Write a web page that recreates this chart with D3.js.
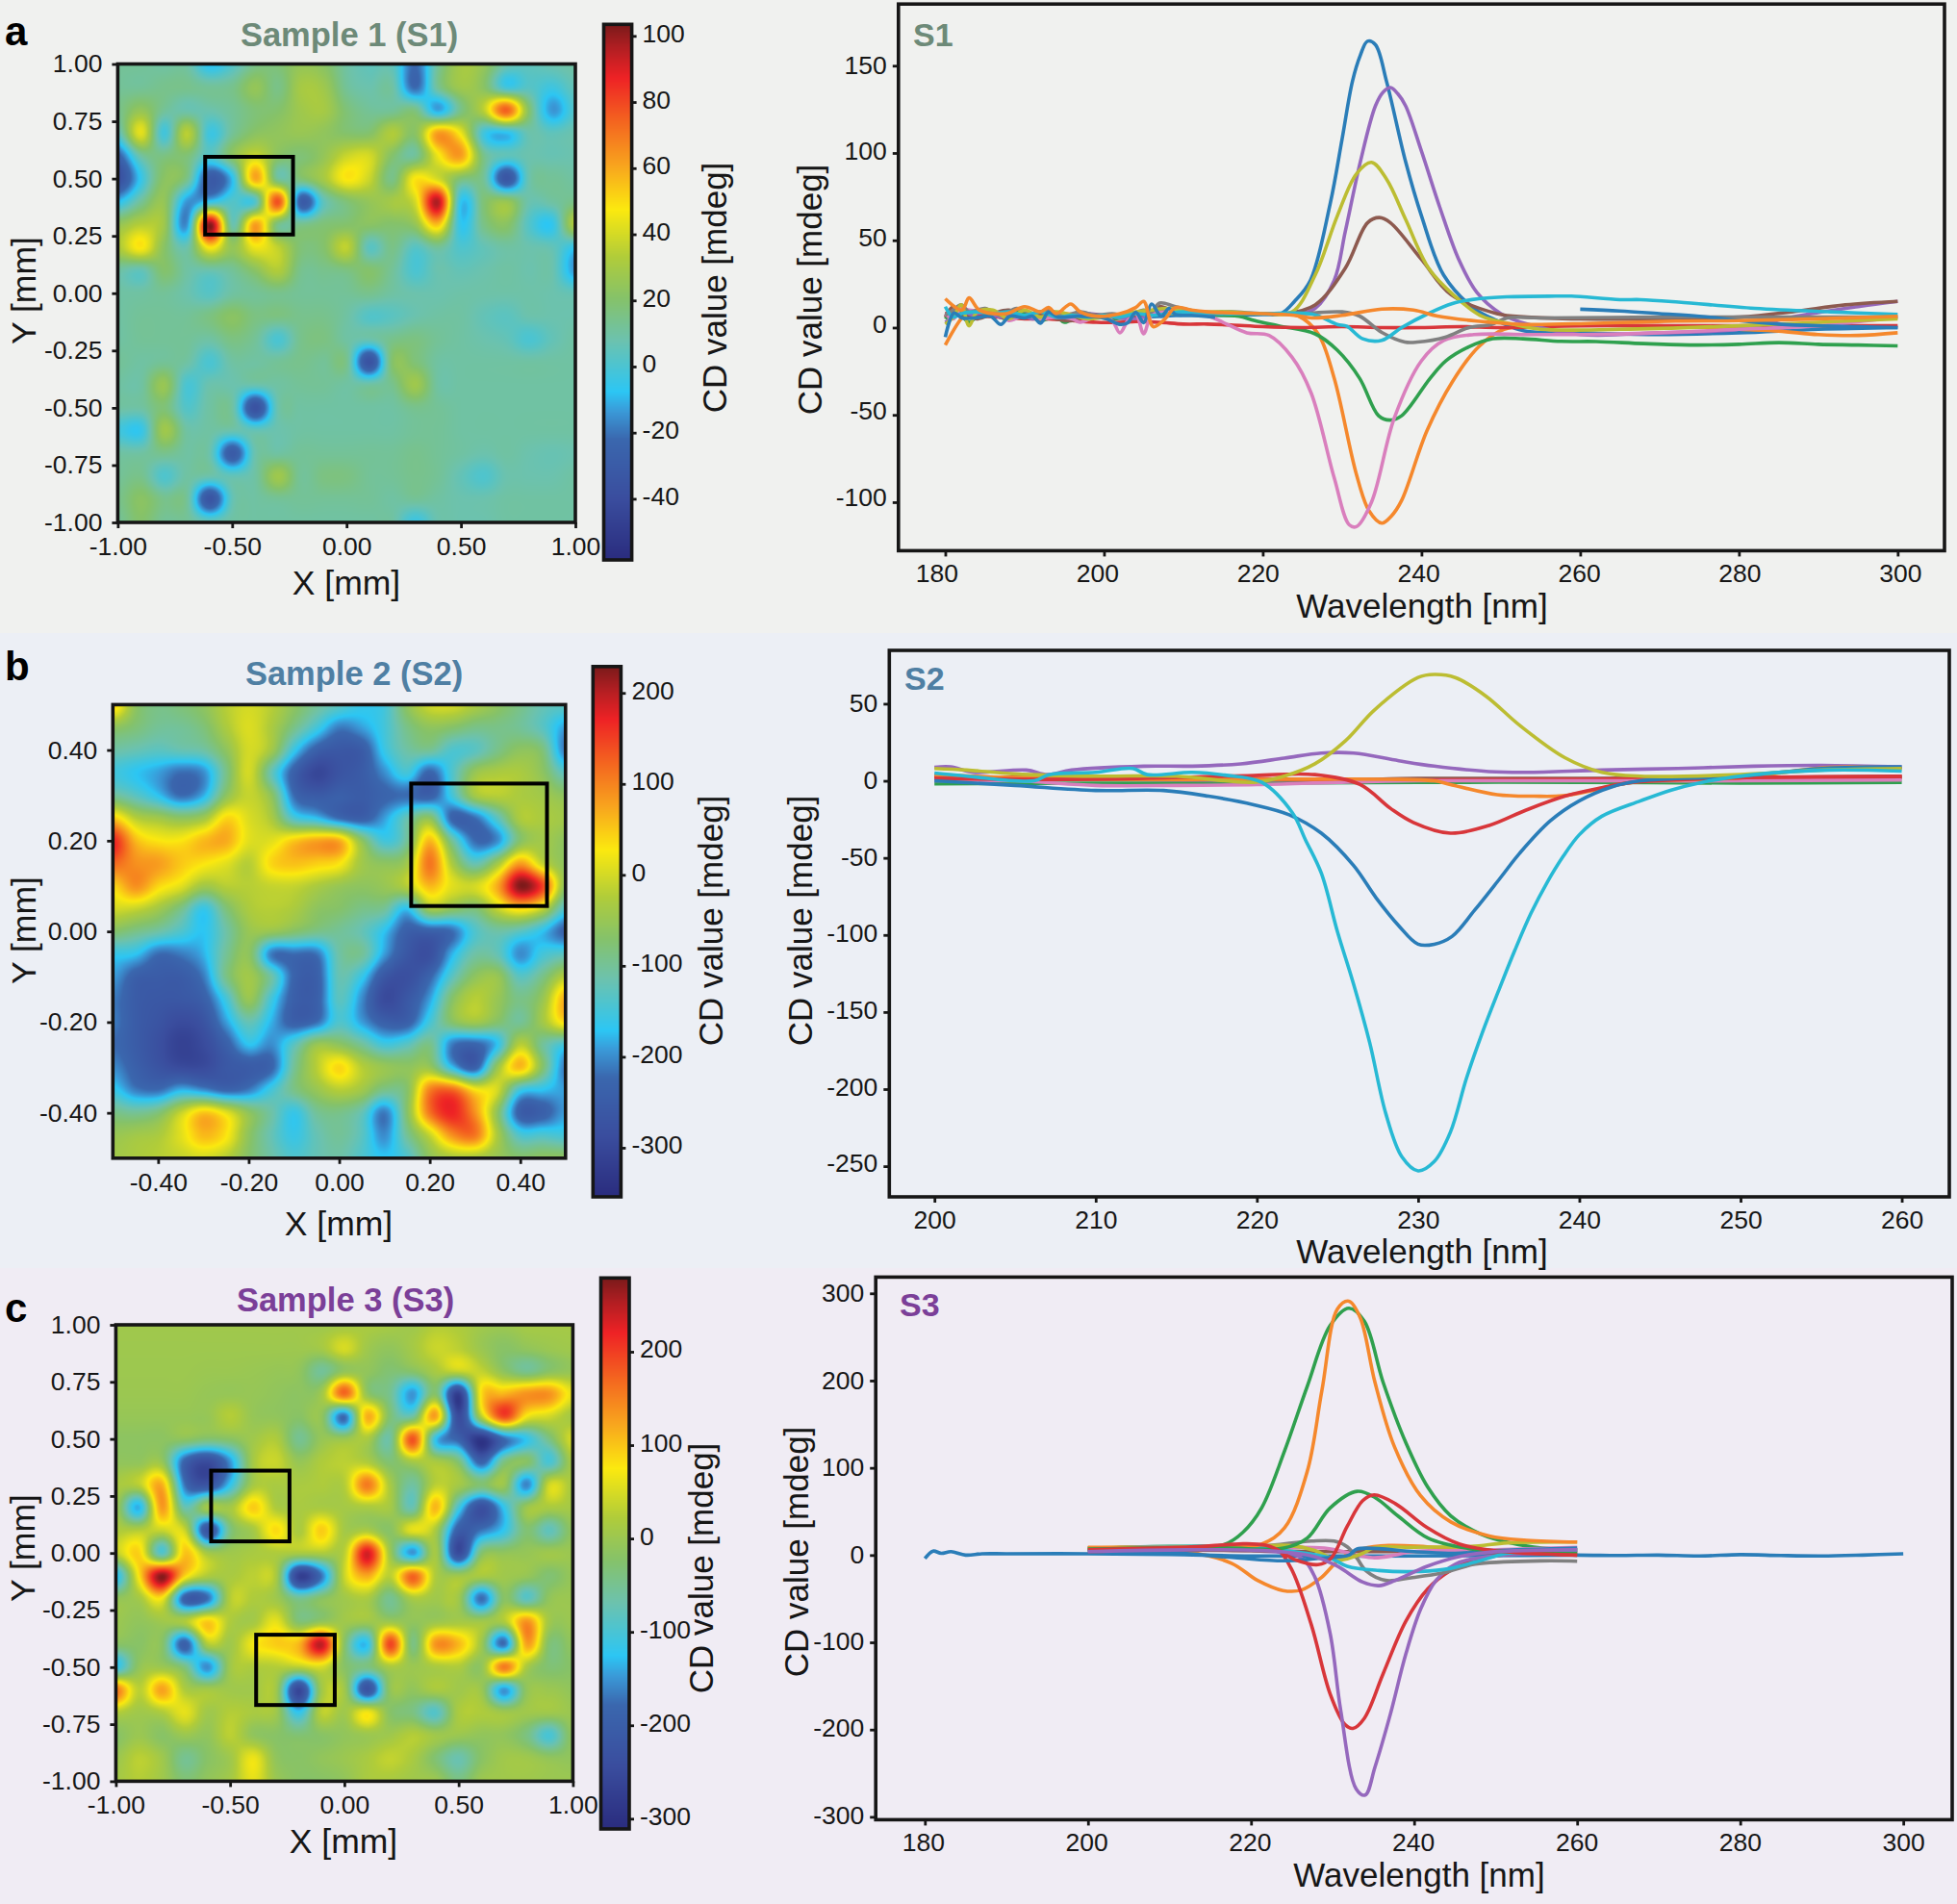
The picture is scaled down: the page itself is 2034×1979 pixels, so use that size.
<!DOCTYPE html>
<html>
<head>
<meta charset="utf-8">
<title>CD mapping of samples S1, S2, S3</title>
<script src="https://cdn.jsdelivr.net/npm/d3@7"></script>
<style>
html,body{margin:0;padding:0;background:#f0f1ef}
svg{display:block}
text{font-family:"Liberation Sans",Arial,Helvetica,sans-serif;fill:#161616}
</style>
</head>
<body>
<svg id="fig" width="2034" height="1979"></svg>
<script>
// CD value maps, rows run from the top edge of each map to the bottom edge
const mapS1 = [
[12,12,10,10,-8,2,15,18,25,22,10,5,5,-22,12,30,25,8,5,8,10],
[12,12,14,14,12,14,25,15,30,28,12,8,10,-22,12,28,22,-2,3,-3,6],
[14,25,12,8,8,12,18,20,28,30,18,12,12,16,-12,15,35,75,20,-14,2],
[5,43,-2,35,-3,12,22,24,26,24,20,20,33,22,62,45,-2,-8,8,5,8],
[-25,10,16,18,2,22,38,22,18,25,38,40,20,12,45,62,15,5,8,7,8],
[-38,-5,22,15,-30,-8,60,12,18,30,48,38,15,48,40,18,12,-33,8,12,10],
[-8,12,25,-14,-6,2,2,78,-28,5,18,25,30,40,96,-6,18,26,8,10,15],
[25,34,28,-15,102,8,62,15,14,18,20,22,20,25,55,-6,15,22,2,-6,34],
[32,48,22,8,48,25,45,36,18,20,36,4,15,3,12,1,6,10,8,6,-6],
[10,6,20,10,8,12,22,33,14,14,16,20,12,0,8,6,8,10,8,8,-14],
[10,10,12,8,3,10,12,14,12,12,12,14,10,8,8,9,9,9,9,8,6],
[10,12,12,12,16,22,16,16,14,14,10,2,4,8,10,10,6,4,8,8,8],
[10,12,12,12,10,16,12,0,14,16,10,8,14,16,12,10,8,6,0,6,10],
[12,10,12,10,0,10,10,12,14,12,14,-36,20,18,10,10,10,10,10,10,10],
[10,10,26,0,8,8,8,10,12,12,10,10,14,28,10,10,10,10,10,10,10],
[10,10,18,2,10,10,-36,8,10,10,10,10,10,14,12,10,10,10,10,10,10],
[-2,-5,28,10,10,8,6,8,10,10,10,10,10,12,12,10,10,10,10,10,10],
[10,10,14,10,8,-30,8,10,12,12,12,12,12,14,12,10,8,10,8,7,8],
[12,14,1,10,8,6,10,28,12,16,16,12,12,14,12,6,1,8,8,8,10],
[14,22,14,12,-34,6,10,12,12,12,12,12,10,12,10,8,8,10,10,10,10],
[12,20,12,12,6,10,10,10,10,10,10,10,10,-4,8,8,8,10,10,10,10]
];
const mapS2 = [
[50,-60,-90,-80,-60,-20,0,-20,-60,-100,-130,-160,-150,-60,-5,0,-30,-60,-90,-120,-130],
[-60,-80,-100,-100,-80,-30,5,-30,-90,-150,-210,-190,-150,-90,-60,-70,-90,-90,-100,-130,-190],
[-110,-120,-130,-120,-110,-60,0,-40,-160,-240,-260,-250,-160,-110,-100,-140,-130,-90,-60,-80,-210],
[-150,-170,-190,-220,-200,-90,0,-120,-240,-300,-270,-250,-200,-150,-230,-140,-50,-30,-30,-60,-130],
[-100,-130,-170,-220,-180,-60,-10,-60,-220,-250,-240,-250,-230,-220,-240,-150,-40,-20,-30,-40,-60],
[50,-20,-40,-60,-40,40,5,-30,-140,-170,-220,-240,-190,-120,-60,-230,-220,-130,-30,-30,-40],
[170,60,30,30,60,70,10,10,50,75,70,-60,-150,-100,60,-100,-220,-200,-70,-40,-60],
[120,90,80,50,30,10,-20,40,55,45,30,-40,-60,-40,110,-30,-120,-40,80,-10,-60],
[40,90,40,10,-40,-20,-20,-10,-10,-30,-50,-60,-50,-20,60,10,0,70,225,150,-60],
[0,-10,-40,-90,-160,-80,-30,-20,-30,-60,-70,-90,-100,-170,-40,-60,-80,-10,40,-10,-140],
[-70,-90,-110,-140,-170,-110,-50,-50,-70,-90,-100,-120,-170,-240,-240,-220,-140,-110,-130,-170,-230],
[-160,-170,-220,-210,-180,-100,-60,-210,-220,-215,-110,-100,-190,-260,-280,-180,-110,-120,-200,-150,-130],
[-190,-240,-250,-250,-210,-90,-40,-110,-230,-240,-120,-160,-260,-280,-230,-130,-60,-50,-130,-90,-20],
[-210,-250,-260,-260,-240,-150,-50,-150,-240,-240,-130,-200,-290,-260,-190,-70,-20,-50,-90,-50,70],
[-210,-250,-270,-290,-270,-190,-120,-180,-240,-220,-140,-190,-240,-240,-150,-70,-40,-70,-100,-40,40],
[-220,-250,-280,-310,-290,-240,-170,-200,-130,-50,-60,-100,-150,-130,-90,-210,-230,-170,-20,-100,-150],
[-200,-240,-270,-290,-290,-260,-250,-230,-100,-20,40,-20,-50,-60,-50,-170,-240,-50,60,-70,-210],
[-160,-210,-220,-180,-200,-230,-210,-150,-90,-50,-20,-40,-90,-70,100,120,30,0,-150,-170,-190],
[-90,-100,-80,-10,50,10,-60,-110,-160,-100,-90,-120,-210,-70,110,170,90,-60,-240,-240,-190],
[-50,-40,-30,10,60,30,-60,-120,-160,-120,-100,-130,-200,-100,-10,90,110,-30,-140,-140,-150],
[-40,-30,-20,-10,0,-20,-70,-110,-140,-120,-110,-140,-170,-140,-60,-30,-30,-50,-70,-60,-60]
];
const mapS3 = [
[5,5,5,5,5,5,5,5,5,5,10,15,10,5,25,20,5,0,10,10,10],
[3,3,3,3,3,3,3,3,3,10,50,5,-10,10,40,30,0,-20,-10,0,5],
[2,2,2,2,0,0,-2,-5,-10,-55,-10,-10,-30,-20,15,40,35,-15,-50,-20,-5],
[0,0,0,0,-5,-5,-5,-10,-15,5,170,-10,-50,-150,-25,-270,80,110,135,135,60],
[-5,-5,-5,-5,-5,25,-5,-10,-20,-10,-175,115,-30,-60,125,-245,25,195,70,45,10],
[-15,-15,-15,-15,-30,-20,5,20,-50,-5,0,15,-60,185,-120,-190,-290,-180,-120,-40,50],
[-10,-10,-5,-190,-245,-150,10,40,-5,20,30,20,-30,10,15,-30,-190,-40,-20,-100,15],
[15,30,115,-170,-225,-120,10,15,15,20,25,155,15,-60,30,10,-30,0,-160,45,15],
[0,-135,130,-70,10,10,95,20,15,15,10,15,10,-70,110,-100,-235,-120,0,15,10],
[20,25,40,40,-225,-40,10,85,15,95,10,15,-20,60,15,-200,-170,-120,-30,-80,-10],
[35,90,-90,100,10,5,15,20,15,20,30,235,5,-150,10,-245,-30,-10,-5,5,0],
[-130,80,272,90,20,15,30,15,-265,-170,40,120,30,172,20,5,15,5,-5,-30,-5],
[-10,10,70,-195,-175,25,20,5,-50,-20,5,15,-50,15,5,5,-175,-20,-85,-10,0],
[0,-10,5,20,95,20,10,60,-30,-10,5,5,0,-10,0,10,5,20,135,5,0],
[-20,-20,-20,-195,20,5,70,95,110,245,-20,-125,195,-40,135,110,5,-175,125,-30,-10],
[-120,-10,0,-40,-155,5,20,25,30,50,-20,-40,15,0,15,20,-10,155,15,-30,-20],
[155,30,125,20,10,5,5,5,-255,5,5,-225,-10,-10,15,5,0,-150,-10,0,-10],
[25,5,20,60,5,25,15,5,-120,30,5,70,-20,-40,-90,15,20,5,5,5,0],
[-20,0,-20,0,-10,30,-10,-20,-30,-20,-10,0,5,25,5,0,-10,-10,-40,-100,-10],
[0,30,5,-50,-20,5,65,-10,-20,-10,0,15,35,15,-30,-70,-20,5,5,-10,-10],
[10,25,5,-30,-10,10,60,0,-20,-20,-10,15,15,5,0,-40,0,5,5,0,0]
];

// Marked regions on the maps: [x0, y0, x1, y1] in mm
const regionsS1 = [[-0.618,0.595,-0.234,0.256]];
const regionsS2 = [[0.159,0.326,0.459,0.056]];
const regionsS3 = [[-0.583,0.361,-0.24,0.051],[-0.386,-0.358,-0.042,-0.666]];

// Tick values
const posTicks1mm = [-1,-0.5,0,0.5,1];
const mapYTicks1mm = [-1,-0.75,-0.5,-0.25,0,0.25,0.5,0.75,1];
const posTicks04 = [-0.4,-0.2,0,0.2,0.4];
const barTicksS1 = [-40,-20,0,20,40,60,80,100];
const barTicksS2 = [-300,-200,-100,0,100,200];
const barTicksS3 = [-300,-200,-100,0,100,200];
const wlTicksS1 = [180,200,220,240,260,280,300];
const wlTicksS2 = [200,210,220,230,240,250,260];
const wlTicksS3 = [180,200,220,240,260,280,300];
const cdTicksS1 = [-100,-50,0,50,100,150];
const cdTicksS2 = [-250,-200,-150,-100,-50,0,50];
const cdTicksS3 = [-300,-200,-100,0,100,200,300];

// Line colours in plotting order
const lineBlue="#2a7db8",lineOrange="#f5882c",lineGreen="#2fa04e",lineRed="#d8363a",linePurple="#9568bd",
      lineBrown="#8d5a4f",linePink="#d97fbd",lineGray="#808080",lineOlive="#bcbd32",lineCyan="#27b9d4";

// S1 spectra: [wavelength nm, CD mdeg]
const s1Blue = [[180,8],[184,7],[188,8],[192,6],[196,7],[200,6],[205,6],[210,7],[215,7],[220,7.5],[222.3,8],[224,15],[226,27],[228.5,71],[230,108],[231.3,141],[232.3,156],[233.2,164],[234.2,162],[235.6,141],[238,95],[240,64],[242.8,30],[246.6,11],[249.5,4],[253,-2],[260,-3],[270,-4],[280,-3],[290,-1],[300,0]];
const s1OrangeDeep = [[180,-10],[182,5],[183,9],[186,8],[190,7],[195,8],[200,6],[205,8],[210,8],[215,8],[220,8],[222,8],[224.5,6.6],[227,-3.7],[229,-29],[231.8,-84],[233.4,-105],[235,-112],[236.2,-108],[237.5,-99],[240.7,-59],[243.9,-31],[247.2,-11],[250.4,-1],[255,1],[270,1],[280,-1],[285,-2],[290,-4],[295,-4.5],[300,-3]];
const s1Green = [[180,5],[181,9],[182,7],[183,3],[184,6],[186,7],[188,5],[189,9],[191,6],[192,4],[194,6],[195,3],[197,7],[199,6],[201,5],[203,6],[205,8],[207,10],[209,8],[211,8],[215,7],[217,6.5],[219,4],[222,1],[226.6,-3.6],[229.4,-13],[232.2,-29],[234.6,-50.5],[236,-53],[237.5,-50.5],[241.1,-29],[243.1,-19],[246,-11],[249,-6.4],[252.8,-6.4],[257.6,-7.9],[262,-8],[268,-9.2],[274.3,-10],[280,-9.6],[285,-8.6],[290,-9.6],[295,-10],[300,-10.5]];
const s1Red = [[180,8],[182,9],[184,7],[187,6],[190,5],[193,5],[196,4],[199,3],[202,3],[204,3.5],[207,3],[210,2],[213,2],[216,1.5],[220,0.5],[225,0],[230,0.5],[235,0],[240,0],[245,0.5],[250,0],[260,1],[270,1],[280,1],[290,1],[300,1]];
const s1Purple = [[180,3],[181,6],[182,10],[183,7],[185,9],[187,6],[189,8],[191,5],[193,7],[195,5],[197,8],[200,7],[203,5],[205,6],[207,9],[209,10],[212,9],[216,8],[220,8],[224.7,8],[226.6,11],[229,27],[230.4,55],[232.3,95],[234.2,127],[235.2,135],[236.1,137.5],[237,134],[238,127],[240,101],[242.3,69],[244.7,39],[247,20],[250,8],[253.3,2],[260,-4],[270,-3],[280,-1],[286.7,6],[295,12],[300,15]];
const s1Brown = [[180,6],[181,12],[182,8],[184,5],[186,8],[188,10],[190,6],[192,8],[194,5],[196,4],[198,7],[201,7],[204,7],[206,9],[207,12],[209,9],[212,8],[216,8],[220,8],[222.8,8],[226.6,13],[230.4,34],[233.2,60],[234.7,63],[236.1,60],[240,39],[243.7,19],[249.5,8],[253.3,6],[260,5],[270,5],[280,6],[286.7,9],[293.4,13],[300,15]];
const s1Pink = [[180,8],[181,5],[182,11],[183,10],[185,9],[187,8],[188,4],[190,7],[192,5],[194,6],[196,5],[197,3],[199,6],[201,4],[202,-3],[203,4],[204,8],[205,-3.5],[206,7],[208,9],[210,9],[213.2,6.5],[215,3],[218,-3],[220.8,-4.5],[223.7,-17],[226.1,-37.5],[229,-86],[230.9,-113],[231.8,-114],[233.7,-100],[236.6,-51.5],[240,-19],[242.8,-7.4],[246.6,-4],[253.3,-4],[260,-4],[270,-3],[280,-1],[290,1],[300,6]];
const s1Gray = [[180,7],[181,10],[182,13],[183,9],[185,11],[187,7],[189,11],[191,8],[193,10],[195,7],[197,9],[199,7],[201,8],[203,7],[205,10],[206,9],[207,14],[209,12],[212,9],[216,9],[220,8],[225,8],[230,9],[232.2,6.6],[235,-2.8],[237.9,-8.3],[239.5,-8.3],[243,-5.5],[246,0],[248.8,1.8],[250.8,5.5],[255,5.5],[270,6],[280,6],[300,6]];
const s1Olive = [[180,2],[181,6],[182,13],[183,1],[184,9],[186,10],[188,5],[190,10],[192,6],[194,9],[196,7],[198,5],[200,6],[202,7],[204,9],[206,10],[208,11],[211,9],[215,9],[220,8],[223.7,9],[226.6,30],[229.4,64],[231.8,88],[233.7,94.6],[235.6,85],[238,62],[240.9,34],[244.2,18],[247.6,6.5],[251.4,2],[255,-1],[265,-1],[280,1],[290,3],[300,5]];
const s1Cyan = [[180,12],[181,6],[182,8],[184,9],[186,8],[188,9],[190,7],[192,9],[194,6],[196,7],[198,6],[200,7],[202,6],[204,8],[206,7],[208,8],[210,9],[214,8],[220,8],[226.2,7.7],[229.4,1.8],[230.6,0.8],[232.6,-6.4],[235,-7.3],[237.5,0],[240.7,7.7],[243.9,13.8],[247.2,16.5],[250.8,17.6],[256.9,18],[258.9,18],[265,16],[267.6,16],[272.4,14.6],[282,11],[291.5,9],[300,7.6]];
const s1BlueNoisy = [[180,-5.5],[181.1,8.3],[182.1,5.5],[183.7,5.5],[185.7,6.5],[187,1.8],[188.1,6.5],[190,5.5],[191,6.5],[192,2.5],[193,8.8],[194.2,6],[196.7,6.5],[200,5.5],[202,1.8],[203,2.8],[204,8.8],[205,2.8],[206,13.5],[207.2,6.5],[208.2,11],[209,7.5],[211,7],[214,6]];
const s1BlueTail = [[260,10.5],[265,9.5],[270,8],[275,6.5],[280,4],[285,2],[290,1],[295,0.5],[300,0]];
const s1OrangeFlat = [[180,16.5],[182.1,10],[183,17],[184.3,10],[187.7,8],[190,12],[192,9],[193,11.5],[194,8],[195.8,13.5],[197,9],[199,6.5],[202,8],[204,11.5],[205,15],[206.2,0.5],[207.7,5],[209,11.5],[211,10],[213,9],[215,8.5],[220,8],[224,7],[226.2,5.5],[230,7],[235,10.6],[239,10],[242,6.6],[247,3.7],[252.8,1.8],[262,2.5],[272,3.7],[280,4],[290,5],[300,6.5]];

// S2 spectra
const s2Green = [[200,-2],[210,-1.5],[220,-1.5],[230,-1],[240,-1],[250,-1.5],[260,-1]];
const s2Gray = [[200,2],[210,1],[220,0],[230,1],[240,1],[250,2],[260,2]];
const s2Brown = [[200,3],[210,1.5],[220,1],[225,0.5],[230,1.5],[240,1.5],[250,2],[260,3]];
const s2RedFlat = [[200,3],[206,2],[212,2],[218,2],[222,1],[230,0.5],[240,1],[250,2],[260,2]];
const s2Pink = [[200,0],[205,0],[210,-3],[215,-3],[220,-2.5],[225,-1],[230,0],[240,0],[250,0],[260,0.5]];
const s2Purple = [[200,8.7],[201,9],[202.4,5.5],[205.7,7],[207,4],[208.5,7],[213,9.5],[216,9.5],[219,11],[221.7,14.7],[224,18],[226,18],[228.8,13],[231,9.5],[234.4,6],[236.7,5.5],[241.4,7],[246.1,8],[250.8,9.5],[255,10],[260,9]];
const s2Orange = [[200,4],[205,2],[210,1],[220,1],[228,1],[231,0],[232,-2.4],[234.9,-9],[237.2,-10],[239,-9.7],[241.4,-5],[243.3,-1],[250,2],[255.5,8.7],[260,8]];
const s2Red = [[200,1.5],[210,1],[219.8,3.5],[223.6,4],[226.4,-2.4],[228.3,-18],[229.7,-27],[232,-34],[234.4,-29],[236.7,-19],[239.1,-10],[241.4,-4.5],[243.3,-1],[250,2],[260,3]];
const s2Blue = [[200,0],[205,-3],[210,-6.3],[214.2,-6.3],[217,-10],[219.8,-15.5],[222,-22],[224,-34],[226,-55],[227.4,-76],[228.8,-94],[230,-106],[231,-106],[232.1,-101],[233.5,-84],[235.1,-63],[236.3,-47],[238.2,-26],[240,-13],[242,-4],[243.8,0],[250,3],[255,8],[260,9]];
const s2Olive = [[200,8],[202,7],[205,4.5],[210,3],[215,3],[219.8,-1],[221.7,3],[223.6,11],[225.5,26],[227.3,46],[230,67],[231,69],[232.3,67],[234.2,55],[236.3,36],[239.1,15],[241.4,5.5],[243.8,3],[250,4],[255,7],[260,8]];
const s2Cyan = [[200,5],[202,3],[206.2,0],[207.1,4],[210,5.5],[212.3,8],[213.2,4],[216,5.5],[218,3.7],[220.3,-1],[222.2,-20.7],[223,-38],[224,-60],[225,-98],[226,-132],[227,-170],[228,-216],[229,-244],[230,-253],[231,-247],[232,-228],[233,-193],[234,-163],[235,-136],[236,-110],[237,-86],[238,-66],[239,-49],[240,-35],[241.4,-23],[243.8,-13],[245.7,-6],[247.6,-1],[250.8,4],[255.5,7],[260,6.3]];

// S3 spectra
const s3BlueLong = [[180,-4],[181,4.6],[182,2],[183.2,4],[185,0],[187,1.5],[190,1.5],[200,1.5],[210,0.7],[220,-1],[240,-1],[260,0],[265,-0.5],[270,0],[275,-1],[280,0.5],[285,-0.5],[290,-1],[295,0],[300,1.5]];
const s3OrangeDip = [[200,8],[207.4,5.5],[212,4],[217.6,-9.3],[220.8,-29],[223.9,-40.6],[226.2,-40],[228.6,-26],[231,-3.7],[233.7,7.3],[236.9,11],[241.6,9.5],[247.5,6],[260,6]];
const s3GreenBig = [[200,8],[210,9],[214,10],[216.7,12],[219,26],[221.3,54],[224.1,119],[226.9,193.5],[229.7,263],[232,283],[233.9,268],[236.2,198],[239,128.5],[241.7,77.5],[244.5,45],[248.2,24],[252,13.5],[255.7,8],[260,5.5]];
const s3RedBig = [[200,7],[210,8],[220,8],[223,8],[224.9,-15],[227.4,-80],[229.7,-159],[231.5,-194],[232.5,-198.6],[233.9,-187],[236.2,-136],[239,-75.6],[241.7,-38.5],[244.5,-17.6],[247.3,-6],[251.9,1],[260,0]];
const s3PurpleBig = [[200,5],[210,6],[220,5],[226,-2.3],[227.8,-24.6],[229.7,-89.6],[231,-178],[232.9,-268],[234,-275],[235.2,-243],[237.1,-182],[239,-113],[240.8,-62],[242.7,-29],[245,-10.7],[249.2,-1.4],[260,3]];
const s3Brown = [[200,4],[210,6],[220,5],[230,4],[240,4],[250,3],[260,4]];
const s3Pink = [[200,7],[210,8],[220,8],[229,8],[234.9,-3],[237.7,0],[239.6,4],[250,6],[260,9]];
const s3Gray = [[200,8],[210,9],[221,10],[227.4,16],[230.2,16],[231.8,9.5],[233,-3.7],[234.1,-18],[236.5,-29],[239.6,-26],[243.6,-20.4],[247.5,-10.4],[255.4,-6.7],[260,-7]];
const s3Olive = [[200,8],[210,10],[220,10],[224.7,11],[227.8,5.4],[230.6,-5.6],[233.7,2],[235,8],[240,9],[247,10],[251.5,14],[260,15]];
const s3Cyan = [[200,7],[205,9],[210,10],[220,9],[227,1.8],[229.8,-3.7],[231.8,-12.8],[235.7,-17.7],[239.6,-19],[243.6,-16.6],[247.5,-8],[251.4,2],[255.4,5],[260,6]];
const s3BlueMid = [[200,5],[210,3],[218,-3],[224,-6.5],[228,-4],[232,0],[233,7],[240,4],[245,2],[250,5],[260,8]];
const s3OrangeBig = [[200,9],[210,9],[218,10],[221.3,12.5],[224.1,31],[226.9,96],[228.7,189],[230.6,282],[232,291],[233.4,272],[235.2,198],[237.6,124],[240.8,68],[244.5,38],[249.2,22],[253.8,17],[260,15]];
const s3GreenSmall = [[200,7],[215,9],[224,8],[226.9,19.5],[229.7,54],[233,73],[235.2,66],[238,45],[241.7,19.5],[246.4,8],[253.8,3],[260,2]];
const s3RedSmall = [[200,6],[212,9],[221.9,11],[225.5,-5.6],[228.2,-11],[229.8,-3.7],[231.8,33],[233.7,62.4],[235.1,69],[237.7,59],[241.6,31.5],[245.5,12.8],[249.5,5.4],[260,0]];
const s3PurpleSmall = [[200,4],[212,6],[222,5],[227.8,-1.8],[230.6,-12.8],[233.7,-31],[235.7,-35],[237.7,-29],[241.6,-12.8],[245.5,-1.8],[249.5,3.5],[260,6]];

// Shared colour ramp of the maps, stops given as a fraction of the bar's range
const rampStops = [0,0.114,0.225,0.278,0.314,0.41,0.487,0.565,0.654,0.735,0.814,0.9,0.957,1];
const rampColors = ["#2a2c7e","#3a4d9e","#3a67ae","#3a9ad8","#2cc6f4","#6cc2ae","#85c26a","#b0cc3a","#fbe90f","#f8a51e","#f4681f","#ee2225","#b01e22","#7a1a1a"];

const panels = [
 {letter:"a",bg:"#f0f1ef",bgTop:0,bgBottom:658,title:"Sample 1 (S1)",tag:"S1",accent:"#6d8a78",
  map:mapS1,regions:regionsS1,box:[122.4,66.5,598,543],xDom:[-1,1],yDom:[-1,1],xT:posTicks1mm,yT:mapYTicks1mm,
  bar:[627.5,25.3,656.6,582],barDom:[-58.5,103.5],barT:barTicksS1,
  titlePos:[363,36],letterPos:[5,47],xLab:[360,606],yLab:[24.5,302],barLab:[742,299],
  frame:[933.8,4.2,2021,572.4],wlDom:[174.1,305.9],cdDom:[-127.8,185.3],wlT:wlTicksS1,cdT:cdTicksS1,
  wlLabelDrift:[-9,2.5],cdLabelDrift:5.5,
  tagPos:[949,36],wlLab:[1478,629],cdLab:[841,301],
  lines:[[s1Blue,lineBlue],[s1OrangeDeep,lineOrange],[s1Green,lineGreen],[s1Red,lineRed],[s1Purple,linePurple],[s1Brown,lineBrown],[s1Pink,linePink],[s1Gray,lineGray],[s1Olive,lineOlive],[s1Cyan,lineCyan],[s1BlueNoisy,lineBlue],[s1BlueTail,lineBlue],[s1OrangeFlat,lineOrange]]},
 {letter:"b",bg:"#eceff5",bgTop:658,bgBottom:1318,title:"Sample 2 (S2)",tag:"S2",accent:"#4f7fa3",
  map:mapS2,regions:regionsS2,box:[117.3,732.4,587.8,1203.8],xDom:[-0.5,0.5],yDom:[-0.5,0.5],xT:posTicks04,yT:posTicks04,
  bar:[616.3,692.8,645.4,1244],barDom:[-354,229],barT:barTicksS2,
  titlePos:[368,700],letterPos:[5,707],xLab:[352,1272],yLab:[24.5,967],barLab:[738,957],
  frame:[924.3,676,2026,1244],wlDom:[197.2,262.95],cdDom:[-269.9,84.6],wlT:wlTicksS2,cdT:cdTicksS2,
  wlLabelDrift:[0,0],cdLabelDrift:3,
  tagPos:[940,705],wlLab:[1478,1300.5],cdLab:[831,957],
  lines:[[s2Green,lineGreen],[s2Gray,lineGray],[s2Brown,lineBrown],[s2RedFlat,lineRed],[s2Pink,linePink],[s2Purple,linePurple],[s2Orange,lineOrange],[s2Red,lineRed],[s2Blue,lineBlue],[s2Olive,lineOlive],[s2Cyan,lineCyan]]},
 {letter:"c",bg:"#f0ecf4",bgTop:1318,bgBottom:1979,title:"Sample 3 (S3)",tag:"S3",accent:"#7b3f98",
  map:mapS3,regions:regionsS3,box:[120.4,1377,595.4,1851.4],xDom:[-1,1],yDom:[-1,1],xT:posTicks1mm,yT:mapYTicks1mm,
  bar:[624.5,1328.3,654,1901],barDom:[-311,279],barT:barTicksS3,
  titlePos:[359,1351],letterPos:[5,1374],xLab:[357,1914],yLab:[24,1609],barLab:[728,1630],
  frame:[910.2,1327.4,2029,1891.4],wlDom:[173.97,306],cdDom:[-303.3,318.6],wlT:wlTicksS3,cdT:cdTicksS3,
  wlLabelDrift:[-2,0],cdLabelDrift:1.5,
  tagPos:[935,1356],wlLab:[1475,1948.5],cdLab:[827.5,1613],
  lines:[[s3BlueLong,lineBlue],[s3OrangeDip,lineOrange],[s3GreenBig,lineGreen],[s3RedBig,lineRed],[s3PurpleBig,linePurple],[s3Brown,lineBrown],[s3Pink,linePink],[s3Gray,lineGray],[s3Olive,lineOlive],[s3Cyan,lineCyan],[s3BlueMid,lineBlue],[s3OrangeBig,lineOrange],[s3GreenSmall,lineGreen],[s3RedSmall,lineRed],[s3PurpleSmall,linePurple]]}
];

const svg = d3.select("#fig");
const INK = "#161616";

function addLabel(text,[x,y],size,opts={}){
  const t = svg.append("text").text(text)
    .attr("font-size",size).attr("font-weight",opts.weight||"normal")
    .attr("text-anchor",opts.anchor||"middle").attr("dominant-baseline",opts.baseline||"central");
  if(opts.color) t.style("fill",opts.color);
  t.attr("transform",`translate(${x},${y})${opts.rotate?" rotate(-90)":""}`);
}

// Catmull-Rom weights along one axis
function crWeights(t){
  return [(-t*t*t+2*t*t-t)/2,(3*t*t*t-5*t*t+2)/2,(-3*t*t*t+4*t*t+t)/2,(t*t*t-t*t)/2];
}
function sampleGrid(grid,u,v){
  const rows=grid.length,cols=grid[0].length;
  const fx=u*(cols-1),fy=v*(rows-1);
  const ix=Math.min(Math.floor(fx),cols-2),iy=Math.min(Math.floor(fy),rows-2);
  const wx=crWeights(fx-ix),wy=crWeights(fy-iy);
  let sum=0;
  for(let b=0;b<4;b++){
    const r=grid[Math.max(0,Math.min(rows-1,iy-1+b))];
    for(let a=0;a<4;a++) sum+=wy[b]*wx[a]*r[Math.max(0,Math.min(cols-1,ix-1+a))];
  }
  return sum;
}
function rasterMap(grid,width,height,color){
  const c=document.createElement("canvas");c.width=width;c.height=height;
  const ctx=c.getContext("2d"),img=ctx.createImageData(width,height);
  for(let y=0;y<height;y++)for(let x=0;x<width;x++){
    const col=d3.rgb(color(sampleGrid(grid,x/(width-1),y/(height-1))));
    const k=(y*width+x)*4;
    img.data[k]=col.r;img.data[k+1]=col.g;img.data[k+2]=col.b;img.data[k+3]=255;
  }
  ctx.putImageData(img,0,0);
  return c.toDataURL();
}
function styleAxis(g,size,shift){
  g.select(".domain").remove();
  g.selectAll(".tick line").attr("stroke",INK).attr("stroke-width",2.8);
  g.selectAll(".tick text").attr("font-size",size).style("fill",INK);
  if(shift) g.selectAll(".tick text").attr("transform",(d,i)=>{const s=shift(d,i);return `translate(${s[0]},${s[1]})`;});
}
// Tick labels use a plain hyphen for negatives
const plain = f => d => f(d).replace("\u2212","-");
const fmt2 = plain(d3.format(".2f"));
const fmt0 = plain(d3.format("d"));

// Background bands go first so no band covers a neighbouring row's text
svg.append("g").selectAll("rect").data(panels).join("rect")
  .attr("x",0).attr("y",d=>d.bgTop).attr("width",2034).attr("height",d=>d.bgBottom-d.bgTop).attr("fill",d=>d.bg);

panels.forEach(p=>{
  addLabel(p.letter,p.letterPos,42,{weight:"bold",anchor:"start",baseline:"auto",color:"#000"});
  addLabel(p.title,p.titlePos,34.5,{weight:"bold",color:p.accent});

  // CD map
  const [x0,y0,x1,y1]=p.box;
  const color=d3.scaleLinear()
    .domain(rampStops.map(s=>p.barDom[0]+s*(p.barDom[1]-p.barDom[0])))
    .range(rampColors).clamp(true);
  const mx=d3.scaleLinear().domain(p.xDom).range([x0,x1]);
  const my=d3.scaleLinear().domain(p.yDom).range([y1,y0]);
  svg.append("image").attr("x",x0).attr("y",y0).attr("width",x1-x0).attr("height",y1-y0)
    .attr("preserveAspectRatio","none")
    .attr("href",rasterMap(p.map,Math.round(x1-x0),Math.round(y1-y0),color));
  svg.append("rect").attr("x",x0).attr("y",y0).attr("width",x1-x0).attr("height",y1-y0)
    .attr("fill","none").attr("stroke",INK).attr("stroke-width",3.6);
  svg.append("g").attr("transform",`translate(0,${y1})`)
    .call(d3.axisBottom(mx).tickValues(p.xT).tickFormat(fmt2).tickSize(6).tickPadding(9))
    .call(g=>styleAxis(g,26.5));
  svg.append("g").attr("transform",`translate(${x0},0)`)
    .call(d3.axisLeft(my).tickValues(p.yT).tickFormat(fmt2).tickSize(6).tickPadding(10))
    .call(g=>styleAxis(g,26.5));
  svg.append("g").selectAll("rect").data(p.regions).join("rect")
    .attr("x",d=>mx(d[0])).attr("y",d=>my(d[1]))
    .attr("width",d=>mx(d[2])-mx(d[0])).attr("height",d=>my(d[3])-my(d[1]))
    .attr("fill","none").attr("stroke","#000").attr("stroke-width",4);
  addLabel("X [mm]",p.xLab,35.5);
  addLabel("Y [mm]",p.yLab,35.5,{rotate:true});

  // Colour bar
  const [bx0,by0,bx1,by1]=p.bar;
  const by=d3.scaleLinear().domain(p.barDom).range([by1,by0]);
  svg.append("g").selectAll("rect").data(d3.range(Math.floor(by0),Math.ceil(by1))).join("rect")
    .attr("x",bx0).attr("y",d=>d).attr("width",bx1-bx0).attr("height",1.5)
    .attr("fill",d=>color(by.invert(d+0.5)));
  svg.append("rect").attr("x",bx0).attr("y",by0).attr("width",bx1-bx0).attr("height",by1-by0)
    .attr("fill","none").attr("stroke",INK).attr("stroke-width",3.6);
  svg.append("g").attr("transform",`translate(${bx1},0)`)
    .call(d3.axisRight(by).tickValues(p.barT).tickFormat(fmt0).tickSize(5).tickPadding(6))
    .call(g=>styleAxis(g,26.5,()=>[0,-2.5]));
  addLabel("CD value [mdeg]",p.barLab,35,{rotate:true});

  // Spectra
  const [fx0,fy0,fx1,fy1]=p.frame;
  const wl=d3.scaleLinear().domain(p.wlDom).range([fx0,fx1]);
  const cd=d3.scaleLinear().domain(p.cdDom).range([fy1,fy0]);
  const path=d3.line().x(d=>wl(d[0])).y(d=>cd(d[1])).curve(d3.curveCatmullRom.alpha(0.5));
  svg.append("g").selectAll("path").data(p.lines).join("path")
    .attr("d",d=>path(d[0])).attr("fill","none").attr("stroke",d=>d[1])
    .attr("stroke-width",3.6).attr("stroke-linejoin","round");
  svg.append("rect").attr("x",fx0).attr("y",fy0).attr("width",fx1-fx0).attr("height",fy1-fy0)
    .attr("fill","none").attr("stroke",INK).attr("stroke-width",3.6);
  const wlExtent=d3.extent(p.wlT);
  svg.append("g").attr("transform",`translate(0,${fy1})`)
    .call(d3.axisBottom(wl).tickValues(p.wlT).tickFormat(fmt0).tickSize(6).tickPadding(8))
    .call(g=>styleAxis(g,26.5,d=>[p.wlLabelDrift[0]+(d-wlExtent[0])/(wlExtent[1]-wlExtent[0])*(p.wlLabelDrift[1]-p.wlLabelDrift[0]),0]));
  svg.append("g").attr("transform",`translate(${fx0},0)`)
    .call(d3.axisLeft(cd).tickValues(p.cdT).tickFormat(fmt0).tickSize(6).tickPadding(6))
    .call(g=>styleAxis(g,26.5,d=>[0,-p.cdLabelDrift*(cd(d)-fy0)/(fy1-fy0)]));
  addLabel(p.tag,p.tagPos,34,{weight:"bold",anchor:"start",color:p.accent});
  addLabel("Wavelength [nm]",p.wlLab,35);
  addLabel("CD value [mdeg]",p.cdLab,35,{rotate:true});
});
</script>
</body>
</html>
